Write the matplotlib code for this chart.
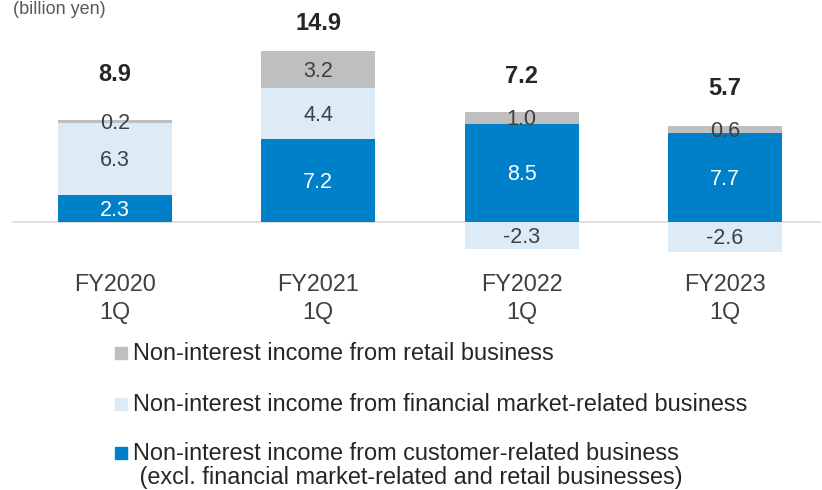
import matplotlib
matplotlib.use("Agg")
import matplotlib.pyplot as plt
from matplotlib.patches import Rectangle
import numpy as np

# ---- data ----
categories = ["FY2020\n1Q", "FY2021\n1Q", "FY2022\n1Q", "FY2023\n1Q"]
customer = [2.3, 7.2, 8.5, 7.7]
financial = [6.3, 4.4, -2.3, -2.6]
retail = [0.2, 3.2, 1.0, 0.6]
totals = [8.9, 14.9, 7.2, 5.7]
legend_labels = [
    "Non-interest income from retail business",
    "Non-interest income from financial market-related business",
    "Non-interest income from customer-related business\n (excl. financial market-related and retail businesses)",
]
unit_label = "(billion yen)"

# ---- layout / style ----
total_label_y = [12.8, 17.2, 12.6, 11.6]
C_BLUE = "#0080C8"
C_LIGHT = "#DDEBF7"
C_GRAY = "#BFBFBF"
C_TEXT = "#404040"
W, H = 822, 490
PX_PER_UNIT = 11.55
ZERO_PX = 222
X0_PX, DX_PX = 115, 203.3

plt.rcParams["font.family"] = ["Liberation Sans", "DejaVu Sans"]
fig = plt.figure(figsize=(W / 100, H / 100), dpi=100)
ax = fig.add_axes([0, 0, 1, 1])
ax.set_xlim(-X0_PX / DX_PX, (W - X0_PX) / DX_PX)
ax.set_ylim(-(H - ZERO_PX) / PX_PER_UNIT, ZERO_PX / PX_PER_UNIT)
ax.axis("off")

x = np.arange(len(categories))
width = 114 / DX_PX

ax.axhline(0, xmin=13 / W, xmax=820 / W, color="#D9D9D9", lw=1.2, zorder=1)

pos_bottom = np.zeros(len(x))
neg_bottom = np.zeros(len(x))
series = [(customer, C_BLUE, "white"), (financial, C_LIGHT, C_TEXT), (retail, C_GRAY, C_TEXT)]
for vals, col, tcol in series:
    vals = np.array(vals, dtype=float)
    bottoms = np.where(vals >= 0, pos_bottom, neg_bottom)
    ax.bar(x, vals, width, bottom=bottoms, color=col, edgecolor="none", zorder=2)
    for xi, v, b in zip(x, vals, bottoms):
        ax.text(xi, b + v / 2 - 0.15, f"{v:.1f}", ha="center", va="center",
                fontsize=15.5, color=tcol, zorder=3)
    pos_bottom = pos_bottom + np.where(vals >= 0, vals, 0)
    neg_bottom = neg_bottom + np.where(vals < 0, vals, 0)

for xi, t, ty in zip(x, totals, total_label_y):
    ax.text(xi, ty, f"{t:.1f}", ha="center", va="center", fontsize=17,
            fontweight="bold", color="#262626")

for xi, c in zip(x, categories):
    ax.text(xi, -(298.5 - ZERO_PX) / PX_PER_UNIT, c, ha="center", va="center",
            fontsize=16.8, color=C_TEXT, linespacing=1.25)

# unit label at the top-left
fig.text(13 / W, 1 - 0.5 / H, unit_label, ha="left", va="top",
         fontsize=13, color="#595959")

# legend (manual)
leg_colors = [C_GRAY, C_LIGHT, C_BLUE]
leg_rows = [353, 404, 453]
for lab, col, ry in zip(legend_labels, leg_colors, leg_rows):
    fig.patches.append(Rectangle((115 / W, 1 - (ry + 6) / H), 12 / W, 12 / H,
                                 transform=fig.transFigure, color=col))
    for k, line in enumerate(lab.split("\n")):
        fig.text(133 / W, 1 - (ry + 24 * k) / H, line, ha="left", va="center",
                 fontsize=16.9, color="#262626")

fig.savefig("out.png", dpi=100)
